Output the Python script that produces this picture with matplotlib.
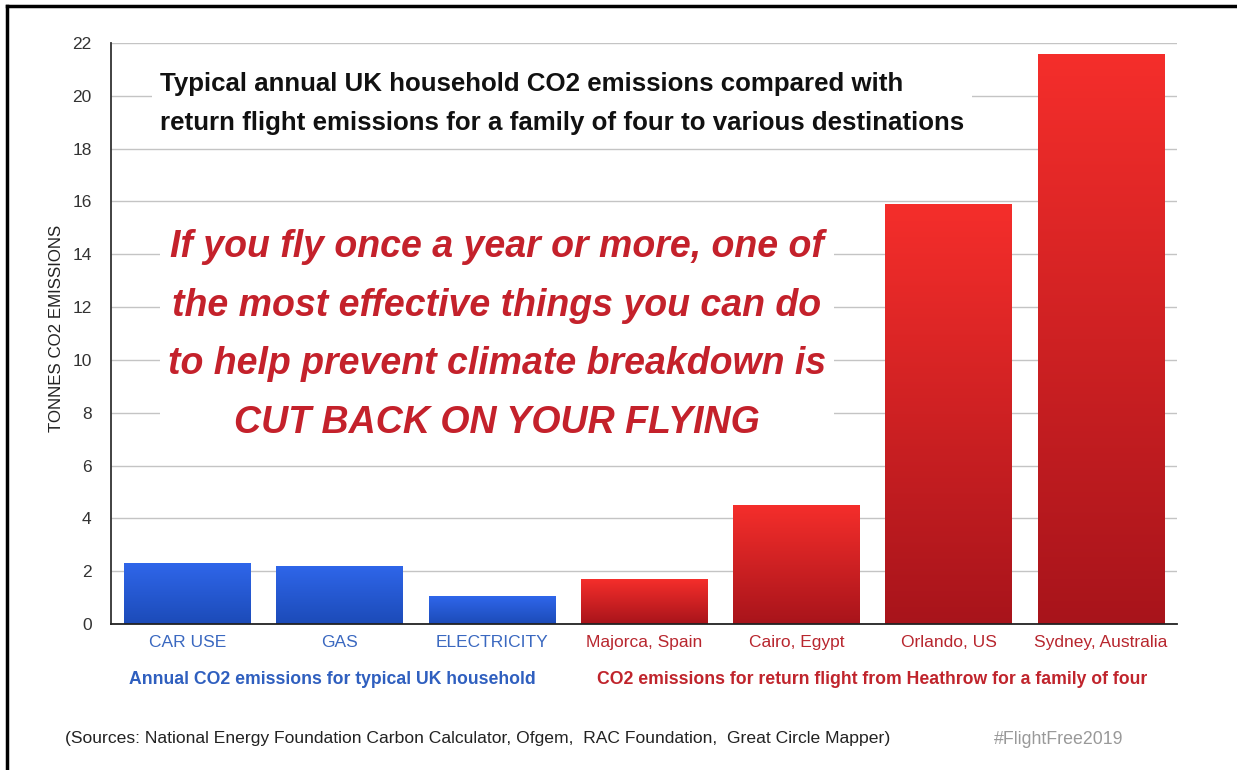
import matplotlib
matplotlib.use("Agg")
import matplotlib.pyplot as plt
import numpy as np
from matplotlib.colors import LinearSegmentedColormap
from matplotlib.lines import Line2D

# data
categories = ["CAR USE", "GAS", "ELECTRICITY", "Majorca, Spain", "Cairo, Egypt", "Orlando, US", "Sydney, Australia"]
values = [2.3, 2.2, 1.05, 1.7, 4.5, 15.9, 21.6]
is_flight = [False, False, False, True, True, True, True]
yticks = [0, 2, 4, 6, 8, 10, 12, 14, 16, 18, 20, 22]

sans = "Liberation Sans"

W, H = 1237, 770
fig = plt.figure(figsize=(W / 100, H / 100), dpi=100)
fig.patch.set_facecolor("white")

def fx(px):
    return px / W

def fy(py):
    return 1 - py / H

ax = fig.add_axes([fx(111), fy(624), fx(1177) - fx(111), fy(43) - fy(624)])
ax.set_ylim(0, 22)
ax.set_yticks(yticks)
ax.yaxis.grid(True, color="#c4c4c4", lw=1)
ax.set_axisbelow(True)
for s in ["top", "right"]:
    ax.spines[s].set_visible(False)
ax.spines["left"].set_color("#333333")
ax.spines["bottom"].set_color("#222222")
ax.spines["left"].set_linewidth(1.3)
ax.spines["bottom"].set_linewidth(1.3)
ax.tick_params(axis="both", length=0)
ax.tick_params(axis="y", pad=14, labelsize=12.5, labelcolor="#333333")
ax.tick_params(axis="x", pad=8, labelsize=12.5)
for lab in ax.get_yticklabels():
    lab.set_fontfamily(sans)

blue_cmap = LinearSegmentedColormap.from_list("b", ["#1c4bb8", "#2f66ea"])
red_cmap = LinearSegmentedColormap.from_list("r", ["#a8141b", "#f52e2b"])

x = np.arange(len(categories))
bars = ax.bar(x, values, width=0.83, color="none", edgecolor="none")
grad = np.linspace(0, 1, 256).reshape(-1, 1)
for b, fl in zip(bars, is_flight):
    x0, w, h = b.get_x(), b.get_width(), b.get_height()
    im = ax.imshow(grad, cmap=red_cmap if fl else blue_cmap, origin="lower",
                   extent=[x0, x0 + w, 0, h], aspect="auto", zorder=2)
    im.set_clip_path(b)
ax.set_xlim(-0.5, len(categories) - 0.5)
ax.set_ylim(0, 22)

ax.set_xticks(x)
ax.set_xticklabels(categories, fontfamily=sans)
for lab, fl in zip(ax.get_xticklabels(), is_flight):
    lab.set_color("#b8262e" if fl else "#3a68c0")

ax.set_ylabel("TONNES CO2 EMISSIONS", fontsize=12.2, fontfamily=sans, color="#222222")
ax.yaxis.set_label_coords((64 - 111) / (1177 - 111), (624 - 328) / (624 - 43))

# title
fig.text(fx(160), fy(103.5), "Typical annual UK household CO2 emissions compared with\nreturn flight emissions for a family of four to various destinations",
         fontsize=18.6, fontweight="bold", fontfamily=sans, color="#111111", ha="left", va="center",
         linespacing=1.75, bbox=dict(facecolor="white", edgecolor="none", pad=6))

# message
fig.text(fx(497), fy(335), "If you fly once a year or more, one of\nthe most effective things you can do\nto help prevent climate breakdown is\nCUT BACK ON YOUR FLYING",
         fontsize=27, fontweight="bold", fontstyle="italic", fontfamily=sans, color="#c4212b",
         ha="center", va="center", linespacing=1.8,
         bbox=dict(facecolor="white", edgecolor="none", pad=6))

# group labels
fig.text(fx(332), fy(679), "Annual CO2 emissions for typical UK household", fontsize=12.7, fontweight="bold",
         fontfamily=sans, color="#2f5fbf", ha="center", va="center")
fig.text(fx(872), fy(679), "CO2 emissions for return flight from Heathrow for a family of four", fontsize=12.7,
         fontweight="bold", fontfamily=sans, color="#c0242c", ha="center", va="center")

fig.text(fx(65), fy(739), "(Sources: National Energy Foundation Carbon Calculator, Ofgem,  RAC Foundation,  Great Circle Mapper)",
         fontsize=12.6, fontfamily=sans, color="#222222", ha="left", va="center")
fig.text(fx(1123), fy(739), "#FlightFree2019", fontsize=12.8, fontfamily=sans, color="#999999",
         ha="right", va="center")

# frame
fig.add_artist(Line2D([fx(7), fx(7)], [fy(6), 0], color="black", lw=2.5, transform=fig.transFigure))
fig.add_artist(Line2D([fx(7), 1], [fy(6), fy(6)], color="black", lw=2.5, transform=fig.transFigure))

fig.savefig("out.png", dpi=100, facecolor="white")
